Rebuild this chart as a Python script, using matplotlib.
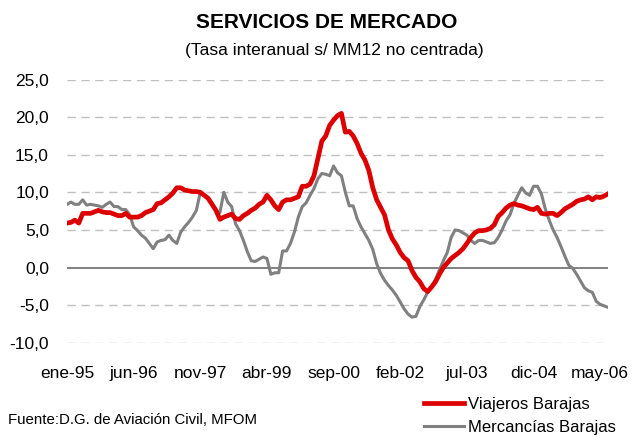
import numpy as np
import matplotlib
matplotlib.use("Agg")
import matplotlib.pyplot as plt

plt.rcParams["font.family"] = ["Liberation Sans", "DejaVu Sans"]

# monthly series, ene-95 .. jul-06
viajeros = [
    5.9, 6.0, 6.3, 5.9, 7.2, 7.2, 7.2, 7.4, 7.6, 7.4, 7.3, 7.3,
    7.1, 6.9, 6.9, 7.2, 6.7, 6.7, 6.7, 6.9, 7.3, 7.5, 7.7, 8.5,
    8.6, 9.0, 9.4, 9.9, 10.6, 10.6, 10.3, 10.2, 10.1, 10.1, 10.0, 9.6,
    9.2, 8.4, 7.6, 6.4, 6.7, 6.9, 7.1, 6.5, 6.4, 6.9, 7.2, 7.6,
    7.9, 8.4, 8.7, 9.6, 9.0, 8.2, 7.7, 8.7, 9.0, 9.0, 9.2, 9.4,
    10.8, 10.8, 11.1, 12.2, 14.5, 16.8, 17.5, 18.9, 19.6, 20.2, 20.5, 18.0,
    18.1, 17.5, 16.5, 15.2, 14.3, 12.9, 10.6, 9.0, 8.0, 7.0, 5.0, 3.8,
    3.0, 2.0, 1.3, 0.9, -0.4, -1.3, -1.9, -2.8, -3.2, -2.6, -1.9, -0.9,
    0.0, 0.6, 1.2, 1.6, 2.0, 2.5, 3.2, 4.0, 4.6, 4.9, 4.9, 5.0,
    5.2, 5.7, 6.8, 7.3, 7.9, 8.3, 8.5, 8.3, 8.2, 8.0, 7.8, 7.7,
    8.0, 7.2, 7.1, 7.2, 7.2, 6.9, 7.3, 7.8, 8.1, 8.4, 8.8, 9.0,
    9.1, 9.4, 9.0, 9.4, 9.3, 9.5, 9.8,
]
mercancias = [
    8.4, 8.7, 8.4, 8.4, 9.0, 8.3, 8.4, 8.3, 8.2, 8.0, 8.4, 8.7,
    8.1, 8.1, 7.7, 7.7, 7.0, 5.4, 4.9, 4.3, 3.9, 3.2, 2.5, 3.4,
    3.6, 3.7, 4.3, 3.6, 3.2, 4.7, 5.4, 6.0, 6.7, 7.6, 10.0, 9.6,
    9.2, 8.5, 7.4, 7.3, 10.0, 8.7, 8.1, 5.8, 4.9, 3.6, 2.1, 0.9,
    0.8, 1.1, 1.4, 1.2, -0.9, -0.7, -0.7, 2.2, 2.2, 3.2, 4.7, 6.7,
    8.1, 8.6, 9.6, 10.5, 11.8, 12.5, 12.4, 12.2, 13.5, 12.6, 12.2, 10.0,
    8.2, 8.2, 6.5, 5.4, 4.5, 3.6, 2.4, 0.5, -0.8, -1.7, -2.4, -3.0,
    -3.7, -4.6, -5.5, -6.2, -6.6, -6.5, -5.2, -4.3, -3.3, -2.5, -1.6, -0.3,
    0.9, 2.0, 4.0, 5.0, 4.9, 4.6, 4.3, 3.6, 3.2, 3.6, 3.6, 3.4,
    3.2, 3.3, 4.0, 5.0, 6.2, 7.0, 8.5, 9.6, 10.6, 9.9, 9.6, 10.8,
    10.8, 9.8, 7.8, 6.3, 5.0, 4.0, 2.8, 1.5, 0.3, -0.1, -0.9, -1.8,
    -2.7, -3.1, -3.3, -4.5, -4.9, -5.1, -5.3,
]
tick_labels = ["ene-95", "jun-96", "nov-97", "abr-99", "sep-00",
               "feb-02", "jul-03", "dic-04", "may-06"]
y_ticks = [-10, -5, 0, 5, 10, 15, 20, 25]

months = np.arange(len(viajeros))

fig = plt.figure(figsize=(6.34, 4.37), dpi=100)
ax = fig.add_axes([67 / 634, 1 - 342.7 / 437, (608 - 67) / 634, (342.7 - 79.5) / 437])

for v in y_ticks:
    if v == 0:
        continue
    ax.axhline(v, color="#c0c0c0", lw=1.0, dashes=(6, 4), zorder=1)
ax.axhline(0, color="#808080", lw=1.4, zorder=2)

ax.plot(months, mercancias, color="#808080", lw=2.2, zorder=3,
        solid_joinstyle="round", label="Mercancías Barajas")
ax.plot(months, viajeros, color="#dd0000", lw=3.4, zorder=4,
        solid_joinstyle="round", label="Viajeros Barajas")

ax.set_xlim(0, len(viajeros) - 1)
ax.set_ylim(-10, 25)
ax.set_xticks(np.arange(len(tick_labels)) * 17)
ax.set_xticklabels(tick_labels, fontsize=12.5)
ax.set_yticks(y_ticks)
ax.set_yticklabels([f"{v:.1f}".replace(".", ",") for v in y_ticks], fontsize=12.5)
ax.tick_params(length=0)
ax.tick_params(axis="y", pad=13)
ax.tick_params(axis="x", pad=17)
for s in ax.spines.values():
    s.set_visible(False)

fig.text(327 / 634, 1 - 22 / 437, "SERVICIOS DE MERCADO", ha="center", va="center",
         fontsize=15, fontweight="bold")
fig.text(334 / 634, 1 - 50 / 437, "(Tasa interanual s/ MM12 no centrada)",
         ha="center", va="center", fontsize=12.5)
fig.text(8 / 634, 1 - 420 / 437, "Fuente:D.G. de Aviación Civil, MFOM",
         ha="left", va="center", fontsize=10.8)

handles, labels = ax.get_legend_handles_labels()
fig.legend(handles[::-1], labels[::-1], loc="center left",
           bbox_to_anchor=(416 / 634, 1 - 416 / 437), frameon=False,
           fontsize=12, handlelength=2.4, handletextpad=0.2,
           labelspacing=0.45, borderpad=0)

fig.savefig("out.png", dpi=100)
